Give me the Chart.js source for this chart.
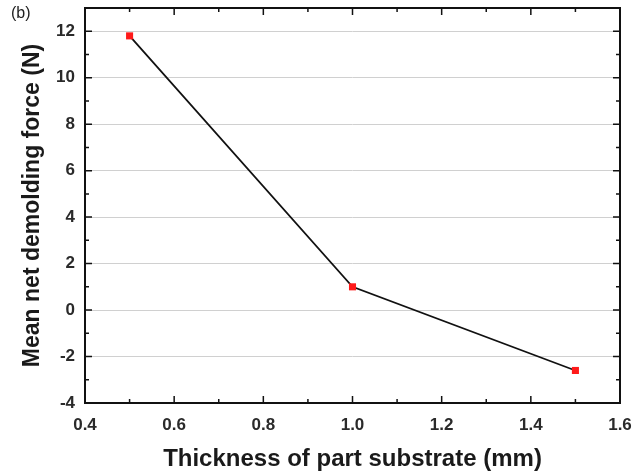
<!DOCTYPE html>
<html>
<head>
<meta charset="utf-8">
<script src="https://cdn.jsdelivr.net/npm/chart.js@4.4.1/dist/chart.umd.min.js"></script>
<style>
  html, body { margin: 0; padding: 0; background: #ffffff; }
  #wrap { position: relative; width: 633px; height: 474px; }
  #panel { position: absolute; left: 11px; top: 4px; font: 16px "Liberation Sans", Arial, sans-serif; color: #222; }
</style>
</head>
<body>
<div id="wrap">
  <canvas id="c" width="633" height="474"></canvas>
  <div id="panel">(b)</div>
</div>
<script>
// Substrate thickness (mm) and mean net demolding force (N)
const thickness = [0.5, 1.0, 1.5];
const netForce = [11.8, 1.0, -2.6];

// Axis ticks
const xTicks = [0.4, 0.6, 0.8, 1.0, 1.2, 1.4, 1.6];
const xMinorTicks = [0.5, 0.7, 0.9, 1.1, 1.3, 1.5];
const yTicks = [-4, -2, 0, 2, 4, 6, 8, 10, 12];
const yMinorTicks = [-3, -1, 1, 3, 5, 7, 9, 11];

const tickFont = { family: '"Liberation Sans", Arial, sans-serif', size: 17, weight: 'bold' };
const xTitleFont = { family: '"Liberation Sans", Arial, sans-serif', size: 24, weight: 'bold' };
const yTitleFont = { family: '"Liberation Sans", Arial, sans-serif', size: 23, weight: 'bold' };

// Frame around the plot area with inward ticks on all four sides
const framePlugin = {
  id: 'frame',
  afterDraw(chart) {
    const { ctx, chartArea: a, scales: { x, y } } = chart;
    ctx.save();
    ctx.strokeStyle = '#111';
    ctx.lineWidth = 1.5;
    ctx.beginPath();
    const tick = (px, len, vertical) => {
      if (vertical) {
        ctx.moveTo(px, a.bottom); ctx.lineTo(px, a.bottom - len);
        ctx.moveTo(px, a.top); ctx.lineTo(px, a.top + len);
      } else {
        ctx.moveTo(a.left, px); ctx.lineTo(a.left + len, px);
        ctx.moveTo(a.right, px); ctx.lineTo(a.right - len, px);
      }
    };
    xTicks.forEach(v => tick(x.getPixelForValue(v), 7, true));
    xMinorTicks.forEach(v => tick(x.getPixelForValue(v), 4, true));
    yTicks.forEach(v => tick(y.getPixelForValue(v), 7, false));
    yMinorTicks.forEach(v => tick(y.getPixelForValue(v), 4, false));
    ctx.stroke();
    ctx.lineWidth = 2;
    ctx.strokeRect(a.left, a.top, a.right - a.left, a.bottom - a.top);
    ctx.restore();
  }
};

new Chart(document.getElementById('c'), {
  type: 'line',
  data: {
    datasets: [{
      data: thickness.map((t, i) => ({ x: t, y: netForce[i] })),
      borderColor: '#111',
      borderWidth: 1.8,
      pointStyle: 'rect',
      pointRadius: 5,
      pointBackgroundColor: '#ff1a1a',
      pointBorderColor: '#ff1a1a',
      pointBorderWidth: 0,
      tension: 0
    }]
  },
  options: {
    responsive: false,
    animation: false,
    events: [],
    layout: { padding: { left: 0, top: 8, right: 13, bottom: 0 } },
    plugins: { legend: { display: false }, tooltip: { enabled: false } },
    scales: {
      x: {
        type: 'linear',
        min: 0.4,
        max: 1.6,
        afterBuildTicks: s => { s.ticks = xTicks.map(v => ({ value: v })); },
        afterFit: s => { s.height = 71; s.paddingLeft = 0; s.paddingRight = 0; },
        grid: { display: false, drawTicks: false },
        border: { display: false },
        ticks: {
          font: tickFont, color: '#2a2a2a', padding: 12,
          callback: v => v.toFixed(1), maxRotation: 0
        },
        title: {
          display: true, text: 'Thickness of part substrate (mm)',
          font: xTitleFont, color: '#1a1a1a', padding: { top: 4, bottom: 0 }
        }
      },
      y: {
        type: 'linear',
        min: -4,
        max: 13,
        afterBuildTicks: s => { s.ticks = yTicks.map(v => ({ value: v })); },
        afterFit: s => { s.width = 85; s.paddingTop = 0; s.paddingBottom = 0; },
        grid: {
          drawTicks: false,
          lineWidth: 1,
          color: c => (c.tick && c.tick.value === -4) ? 'rgba(0,0,0,0)' : '#d0d0d0'
        },
        border: { display: false },
        ticks: { font: tickFont, color: '#2a2a2a', padding: 10, callback: v => String(v) },
        title: {
          display: true, text: 'Mean net demolding force (N)',
          font: yTitleFont, color: '#1a1a1a', padding: { top: 19, bottom: 0 }
        }
      }
    }
  },
  plugins: [framePlugin]
});
</script>
</body>
</html>
